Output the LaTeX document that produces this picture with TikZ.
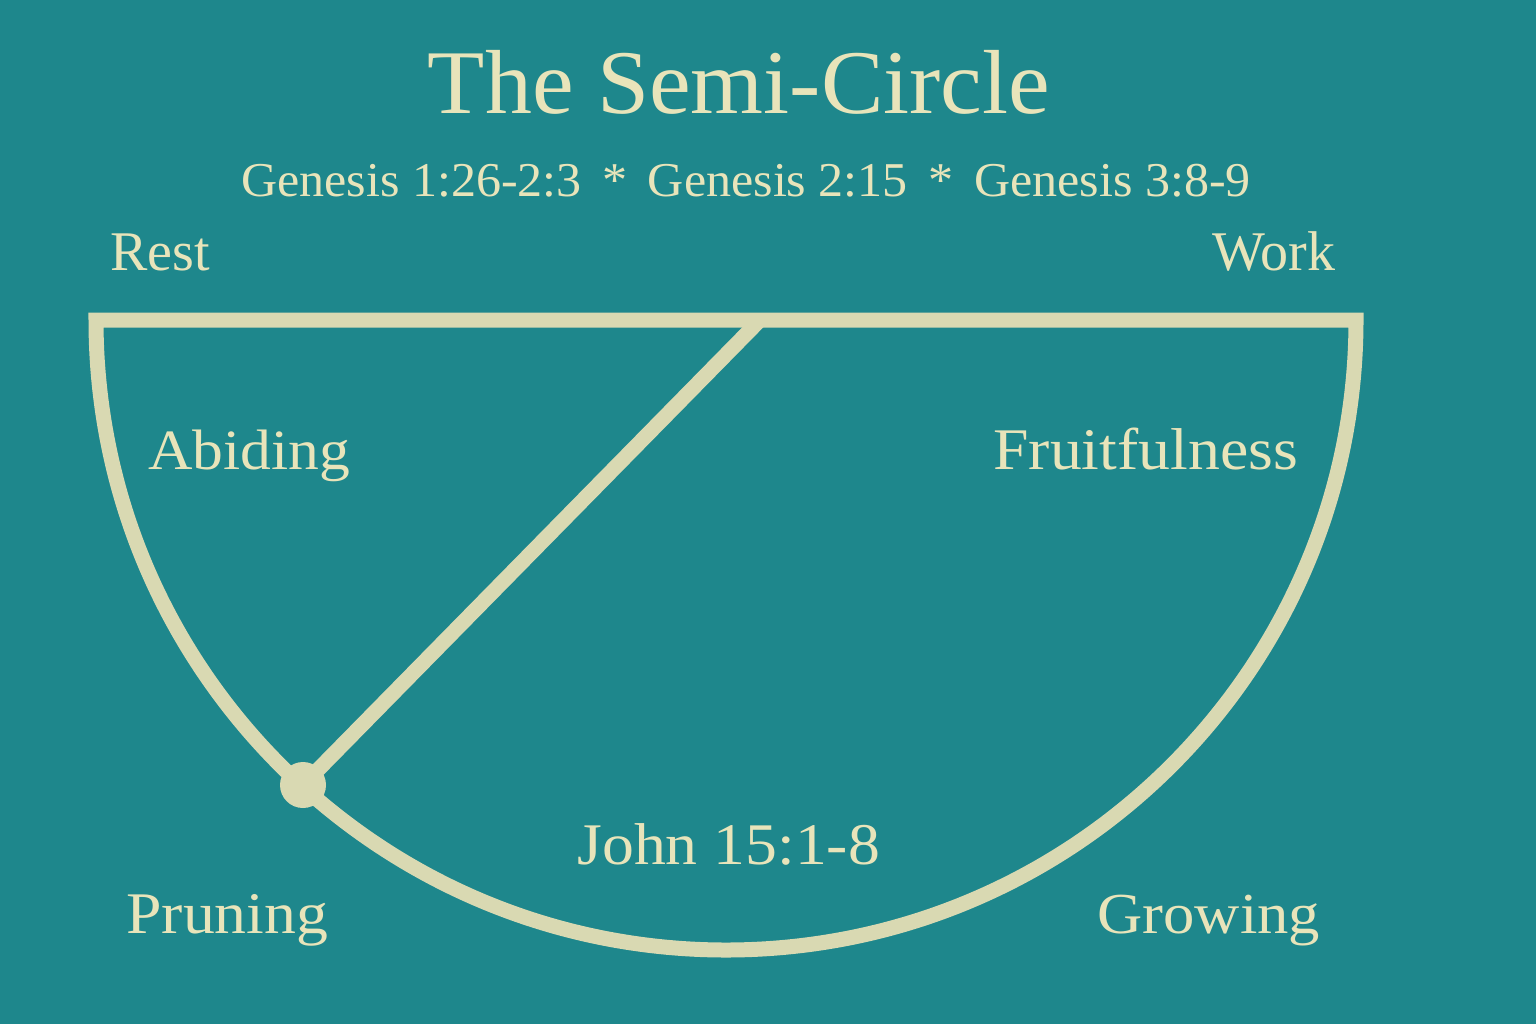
\documentclass[tikz,border=0pt]{standalone}
\usepackage{fontspec}
\setmainfont{Liberation Serif}
\newfontfamily\widefont[FakeStretch=1.08]{Liberation Serif}
\newfontfamily\midfont[FakeStretch=1.03]{Liberation Serif}
\definecolor{bg}{HTML}{1E878C}
\definecolor{ln}{HTML}{D9D9B2}
\definecolor{tx}{HTML}{E8E4BA}
\begin{document}
\begin{tikzpicture}[x=0.5pt,y=-0.5pt,
  lbl/.style={text=tx,inner sep=0pt,anchor=base west,font=\widefont\fontsize{29.5}{32}\selectfont},
  toplbl/.style={text=tx,inner sep=0pt,anchor=base west,font=\fontsize{28}{32}\selectfont},
  arc/.style={draw=ln,line width=7.5pt}]
\fill[bg] (0,0) rectangle (1536,1024);
\useasboundingbox (0,0) rectangle (1536,1024);
% geometry
\coordinate (L) at (96,320);
\coordinate (R) at (1356,320);
\coordinate (T) at (760,320);
\coordinate (P) at (303,785);
\draw[arc,line join=miter] (R) -- (L) arc[start angle=180,end angle=0,radius=630] -- cycle;
\draw[arc] (P) -- (T);
\fill[ln] (P) circle[radius=23];
% texts
\node[text=tx,inner sep=0pt,anchor=base,font=\midfont\fontsize{45.5}{50}\selectfont] (title) at (739,113) {The Semi-Circle};
\node[text=tx,inner sep=0pt,anchor=base,font=\midfont\fontsize{24.3}{28}\selectfont] (sub) at (746,196) {Genesis 1:26-2:3 \,*\, Genesis 2:15 \,*\, Genesis 3:8-9};
\node[toplbl] (rest) at (110,270) {Rest};
\node[toplbl] (work) at (1212,270) {Work};
\node[lbl,font=\widefont\fontsize{28.5}{32}\selectfont] (abid) at (148,469) {Abiding};
\node[lbl] (fruit) at (993,469) {Fruitfulness};
\node[lbl] (john) at (577,864) {John 15:1-8};
\node[lbl] (prun) at (126,933) {Pruning};
\node[lbl,font=\widefont\fontsize{29}{32}\selectfont] (grow) at (1097,933) {Growing};
\end{tikzpicture}
\end{document}
